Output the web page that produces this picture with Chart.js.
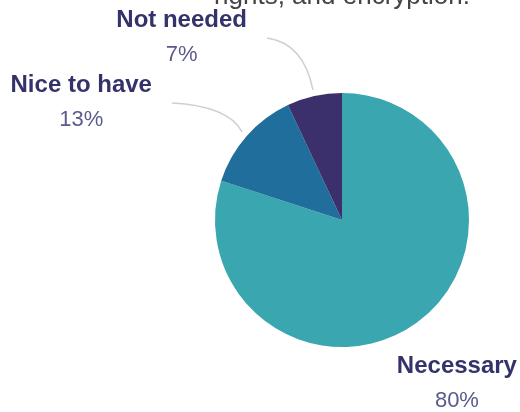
<!DOCTYPE html>
<html>
<head>
<meta charset="utf-8">
<script src="https://cdn.jsdelivr.net/npm/chart.js@4"></script>
<style>
  html,body{margin:0;padding:0;background:#fff;}
  #wrap{width:520px;height:412px;position:relative;}
</style>
</head>
<body>
<div id="wrap"><canvas id="pie" width="520" height="412"></canvas></div>
<script>
// answers, share of respondents (%)
const categories = ["Necessary", "Nice to have", "Not needed"];
const shares = [80, 13, 7];
const sliceColors = ["#3aa6b0", "#1f6e9b", "#3b306c"];
const titleTail = "rights, and encryption.";

// callout placement per slice: angle shift (deg) from slice middle, reach in radii
const callouts = [
  {shift: 24,   reach: 1.32,  leader: false},
  {shift: -6.9, reach: 1.625, leader: true},
  {shift: -9.8, reach: 1.55,  leader: true}
];

const LABEL_FONT = "bold 24px 'Liberation Sans', Arial, sans-serif";
const PCT_FONT = "22px 'Liberation Sans', Arial, sans-serif";

const calloutPlugin = {
  id: "callouts",
  afterDatasetsDraw(chart){
    const ctx = chart.ctx;
    const meta = chart.getDatasetMeta(0);
    ctx.save();

    // title line, only its tail fits above the pie
    const c0 = meta.data[0];
    ctx.font = "26px 'Liberation Sans', Arial, sans-serif";
    ctx.fillStyle = "#444";
    ctx.textAlign = "center";
    ctx.textBaseline = "alphabetic";
    ctx.fillText(titleTail, c0.x, 4);

    meta.data.forEach((arc, i)=>{
      const cfg = callouts[i];
      const mid = (arc.startAngle + arc.endAngle)/2;
      const R = arc.outerRadius;
      const a = mid + cfg.shift*Math.PI/180;
      const px = arc.x + Math.cos(a)*R*cfg.reach;
      const py = arc.y + Math.sin(a)*R*cfg.reach;
      const left = Math.cos(a) < 0;

      if (cfg.leader){
        const ex = arc.x + Math.cos(mid)*R*1.05;
        const ey = arc.y + Math.sin(mid)*R*1.05;
        const cx = px + 0.8*(ex-px);
        const cy = py + 0.1*(ey-py);
        ctx.beginPath();
        ctx.moveTo(px, py);
        ctx.quadraticCurveTo(cx, cy, ex, ey);
        ctx.strokeStyle = "#cfcfd2";
        ctx.lineWidth = 1.5;
        ctx.stroke();
      }

      const name = categories[i];
      const pct = `${shares[i]}%`;
      ctx.font = LABEL_FONT;
      const w1 = ctx.measureText(name).width;
      ctx.font = PCT_FONT;
      const w2 = ctx.measureText(pct).width;
      const bw = Math.max(w1, w2);
      const bx = left ? px - 20 - bw/2 : px + 20 + bw/2;

      ctx.textAlign = "center";
      ctx.font = LABEL_FONT;
      ctx.fillStyle = "#34326a";
      ctx.fillText(name, bx, py - 11);
      ctx.font = PCT_FONT;
      ctx.fillStyle = "#5a5a8c";
      ctx.fillText(pct, bx, py + 23);
    });
    ctx.restore();
  }
};

new Chart(document.getElementById("pie"), {
  type: "pie",
  data: {
    labels: categories,
    datasets: [{
      data: shares,
      backgroundColor: sliceColors,
      borderWidth: 0
    }]
  },
  options: {
    responsive: false,
    animation: false,
    layout: {padding: {left: 215, right: 51, top: 93, bottom: 65}},
    plugins: {legend: {display: false}, tooltip: {enabled: false}}
  },
  plugins: [calloutPlugin]
});
</script>
</body>
</html>
